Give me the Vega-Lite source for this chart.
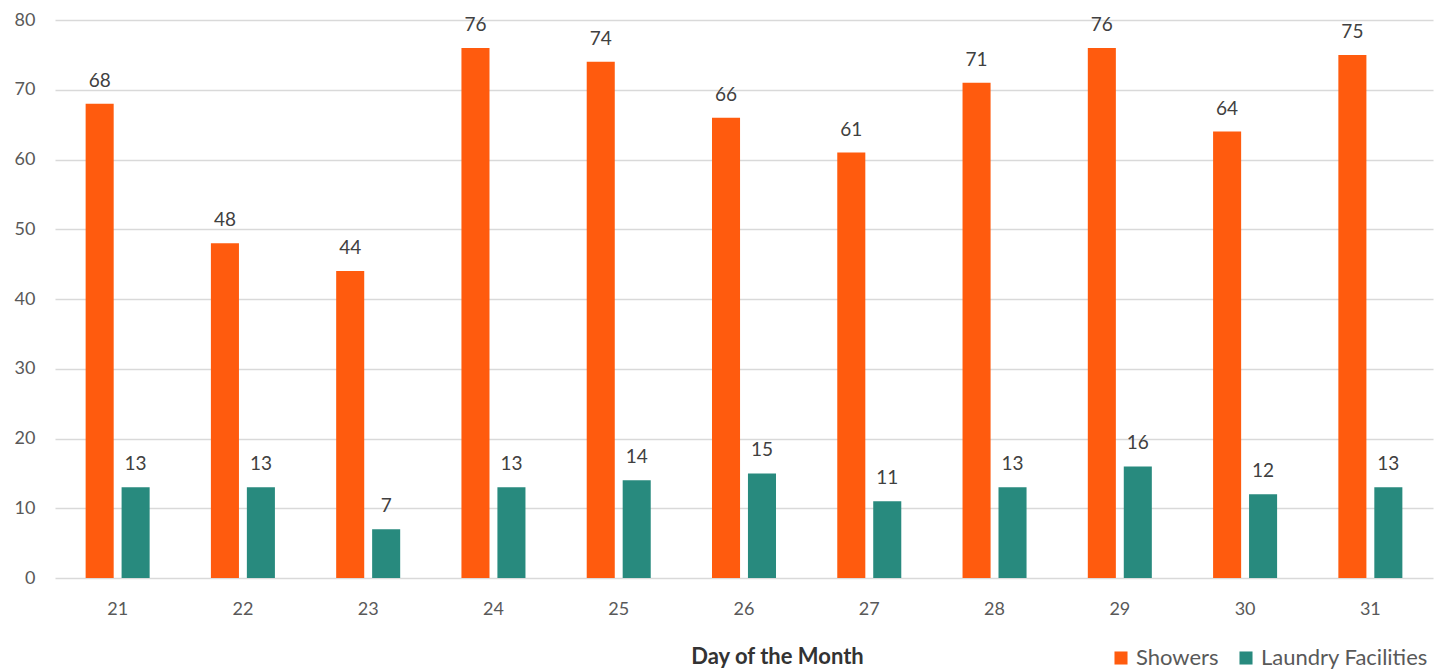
{
  "$schema": "https://vega.github.io/schema/vega-lite/v6.json",
  "width": 1378,
  "height": 558,
  "autosize": "none",
  "padding": {"left": 55, "top": 20, "right": 15, "bottom": 94},
  "background": "white",
  "config": {
    "view": {"stroke": null},
    "font": "Lato",
    "axis": {"labelFont": "Lato", "titleFont": "Lato"}
  },
  "data": {
    "values": [
      {"day": "21", "series": "Showers", "value": 68},
      {"day": "21", "series": "Laundry Facilities", "value": 13},
      {"day": "22", "series": "Showers", "value": 48},
      {"day": "22", "series": "Laundry Facilities", "value": 13},
      {"day": "23", "series": "Showers", "value": 44},
      {"day": "23", "series": "Laundry Facilities", "value": 7},
      {"day": "24", "series": "Showers", "value": 76},
      {"day": "24", "series": "Laundry Facilities", "value": 13},
      {"day": "25", "series": "Showers", "value": 74},
      {"day": "25", "series": "Laundry Facilities", "value": 14},
      {"day": "26", "series": "Showers", "value": 66},
      {"day": "26", "series": "Laundry Facilities", "value": 15},
      {"day": "27", "series": "Showers", "value": 61},
      {"day": "27", "series": "Laundry Facilities", "value": 11},
      {"day": "28", "series": "Showers", "value": 71},
      {"day": "28", "series": "Laundry Facilities", "value": 13},
      {"day": "29", "series": "Showers", "value": 76},
      {"day": "29", "series": "Laundry Facilities", "value": 16},
      {"day": "30", "series": "Showers", "value": 64},
      {"day": "30", "series": "Laundry Facilities", "value": 12},
      {"day": "31", "series": "Showers", "value": 75},
      {"day": "31", "series": "Laundry Facilities", "value": 13}
    ]
  },
  "encoding": {
    "x": {
      "field": "day",
      "type": "nominal",
      "scale": {"paddingInner": 0.489, "paddingOuter": 0.2445},
      "axis": {
        "title": "Day of the Month",
        "titleFontSize": 22,
        "titleFontWeight": "bold",
        "titleColor": "#333333",
        "titleX": 722,
        "titleY": 78,
        "titleBaseline": "middle",
        "labelAngle": 0,
        "labelFontSize": 18,
        "labelColor": "#595959",
        "labelPadding": 22,
        "ticks": false,
        "domain": false
      }
    },
    "xOffset": {
      "field": "series",
      "type": "nominal",
      "sort": ["Showers", "Laundry Facilities"],
      "scale": {"paddingInner": 0.22, "paddingOuter": 0}
    },
    "y": {
      "field": "value",
      "type": "quantitative",
      "scale": {"domain": [0, 80], "nice": false},
      "axis": {
        "title": null,
        "values": [0, 10, 20, 30, 40, 50, 60, 70, 80],
        "labelFontSize": 18,
        "labelColor": "#595959",
        "labelPadding": 20,
        "ticks": false,
        "domain": false,
        "gridColor": "#d9d9d9",
        "gridWidth": 1.5
      }
    }
  },
  "layer": [
    {
      "mark": {"type": "bar"},
      "encoding": {
        "color": {
          "field": "series",
          "type": "nominal",
          "sort": ["Showers", "Laundry Facilities"],
          "scale": {"domain": ["Showers", "Laundry Facilities"], "range": ["#FF5B0E", "#288A7E"]},
          "legend": {
            "title": null,
            "orient": "none",
            "legendX": 1055,
            "legendY": 627,
            "direction": "horizontal",
            "symbolType": "square",
            "symbolSize": 170,
            "labelFontSize": 22,
            "labelLimit": 400,
            "labelColor": "#595959",
            "labelFont": "Lato",
            "columnPadding": 16,
            "symbolStrokeWidth": 0
          }
        }
      }
    },
    {
      "mark": {"type": "text", "baseline": "middle", "dy": -23, "fontSize": 19, "color": "#404040", "font": "Lato"},
      "encoding": {
        "text": {"field": "value", "type": "quantitative"}
      }
    }
  ]
}
